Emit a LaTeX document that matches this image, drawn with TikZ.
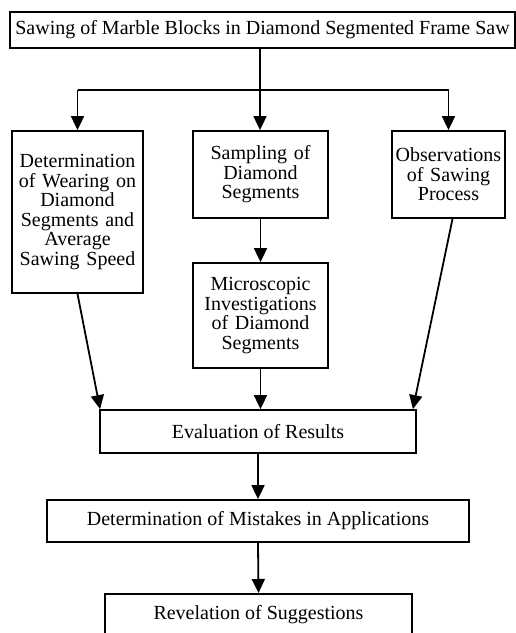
\documentclass[tikz,border=0pt]{standalone}
\usepackage{fontspec}
\setmainfont{Liberation Serif}
\usetikzlibrary{arrows.meta}
\begin{document}
\begin{tikzpicture}[x=1pt,y=-1pt,
  box/.style={draw,line width=1.8pt,inner sep=0pt,align=center,
    font=\fontsize{20}{19.5}\selectfont},
  arr/.style={line width=1.8pt,-{Triangle[width=13pt,length=14pt]}},
  ln/.style={line width=1.8pt}]
\useasboundingbox (0,0) rectangle (516,633);
\clip (0,0) rectangle (516,633);
\node[box,minimum width=505pt,minimum height=36pt] (top) at (262.5,30) {Sawing of Marble Blocks in Diamond Segmented Frame Saw};
\node[box,minimum width=131pt,minimum height=162pt,text width=129pt] (det) at (77.5,212) {Determination\\of Wearing on\\Diamond\\Segments and\\Average\\Sawing Speed};
\node[box,minimum width=135pt,minimum height=87pt,text width=133pt] (samp) at (260.5,174.5) {Sampling of\\Diamond\\Segments};
\node[box,minimum width=135pt,minimum height=105pt,text width=133pt] (micro) at (260.5,315.5) {Microscopic\\Investigations\\of Diamond\\Segments};
\node[box,minimum width=113pt,minimum height=87pt,text width=111pt] (obs) at (448.5,174.5) {Observations\\of Sawing\\Process};
\node[box,minimum width=316pt,minimum height=43pt] (eval) at (258,431.5) {Evaluation of Results};
\node[box,minimum width=422pt,minimum height=42pt] (mist) at (258,521) {Determination of Mistakes in Applications};
\node[box,minimum width=307pt,minimum height=47pt,anchor=north] (rev) at (258.5,593) {};
\node[font=\fontsize{20}{19.5}\selectfont] (revt) at (258.5,615) {Revelation of Suggestions};
\coordinate (j) at (260,90);
\draw[ln] (top.south -| j) -- (j);
\draw[ln] (det.north |- j) -- (obs.north |- j);
\draw[arr] (det.north |- j) -- (det.north);
\draw[arr] (j) -- (samp.north -| j);
\draw[arr] (obs.north |- j) -- (obs.north);
\draw[arr] (samp.south) -- (micro.north);
\draw[arr] (det.south) -- ([xshift=1pt]eval.north west);
\draw[arr] (micro.south) -- (micro.south |- eval.north);
\draw[arr] ([xshift=4pt]obs.south) -- ([xshift=-4pt]eval.north east);
\draw[arr] (eval.south) -- (mist.north);
\draw[arr] (mist.south) -- (rev.north);
\end{tikzpicture}
\end{document}
